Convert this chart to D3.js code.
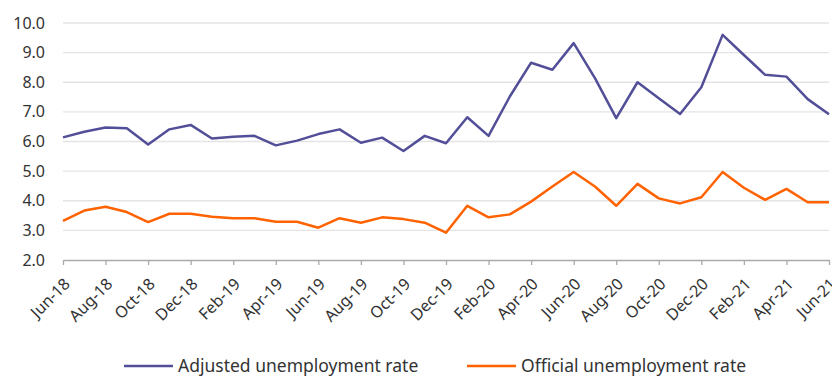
<!DOCTYPE html>
<html>
<head>
<meta charset="utf-8">
<script src="https://cdn.jsdelivr.net/npm/d3@7"></script>
<style>
  body { margin: 0; background: #fff; }
  svg text { font-family: "Noto Sans", sans-serif; fill: #333; }
</style>
</head>
<body>
<div id="chart"></div>
<script>
// monthly labels Jun-18 .. Jun-21
const months = ["Jun-18","Jul-18","Aug-18","Sep-18","Oct-18","Nov-18","Dec-18",
  "Jan-19","Feb-19","Mar-19","Apr-19","May-19","Jun-19","Jul-19","Aug-19","Sep-19","Oct-19","Nov-19","Dec-19",
  "Jan-20","Feb-20","Mar-20","Apr-20","May-20","Jun-20","Jul-20","Aug-20","Sep-20","Oct-20","Nov-20","Dec-20",
  "Jan-21","Feb-21","Mar-21","Apr-21","May-21","Jun-21"];

const adjusted = [6.14,6.33,6.47,6.45,5.90,6.41,6.56,6.10,6.16,6.19,5.87,6.03,6.25,6.41,5.96,6.13,5.68,6.19,5.94,
  6.82,6.19,7.52,8.66,8.42,9.32,8.14,6.79,8.00,7.46,6.93,7.83,9.60,8.92,8.25,8.19,7.43,6.92];

const official = [3.32,3.67,3.80,3.62,3.28,3.56,3.56,3.46,3.41,3.41,3.29,3.29,3.09,3.41,3.26,3.44,3.38,3.26,2.92,
  3.83,3.44,3.54,3.97,4.48,4.97,4.48,3.83,4.57,4.08,3.91,4.12,4.97,4.44,4.03,4.40,3.95,3.95];

const yTicks = [2,3,4,5,6,7,8,9,10];

const series = [
  {name: "Adjusted unemployment rate", values: adjusted, color: "#524f98"},
  {name: "Official unemployment rate", values: official, color: "#ff6200"}
];

const width = 832, height = 378;
const svg = d3.select("#chart").append("svg")
  .attr("width", width).attr("height", height);

const x = d3.scaleLinear().domain([0, months.length - 1]).range([63, 829]);
const y = d3.scaleLinear().domain([2, 10]).range([260, 23]);

// gridlines
svg.append("g")
  .selectAll("line")
  .data(yTicks.slice(1))
  .enter().append("line")
    .attr("x1", x(0)).attr("x2", x(months.length - 1))
    .attr("y1", d => y(d)).attr("y2", d => y(d))
    .attr("stroke", "#e4e4e4").attr("stroke-width", 1.3);

// y labels
svg.append("g")
  .selectAll("text")
  .data(yTicks)
  .enter().append("text")
    .attr("x", 45)
    .attr("y", d => y(d))
    .attr("dy", "0.35em")
    .attr("text-anchor", "end")
    .style("font-size", "16px")
    .text(d => d.toFixed(1));

// x axis
const tickIdx = d3.range(0, months.length, 2);
const xAxis = svg.append("g")
  .attr("transform", "translate(0," + y(2) + ")")
  .call(d3.axisBottom(x).tickValues(tickIdx).tickSize(5).tickSizeOuter(0).tickFormat(""));
xAxis.select(".domain").attr("stroke", "#aaa").attr("stroke-width", 1.3);
xAxis.selectAll(".tick line").attr("stroke", "#aaa").attr("stroke-width", 1.3);

svg.append("g")
  .selectAll("text")
  .data(tickIdx)
  .enter().append("text")
    .attr("transform", d => "translate(" + (x(d) + 4) + "," + (y(2) + 21) + ") rotate(-45)")
    .attr("text-anchor", "end")
    .attr("dy", "0.35em")
    .style("font-size", "16px")
    .text(d => months[d]);

// lines
const line = d3.line()
  .x((d, i) => x(i))
  .y(d => y(d));

svg.append("g")
  .selectAll("path")
  .data(series)
  .enter().append("path")
    .attr("d", d => line(d.values))
    .attr("fill", "none")
    .attr("stroke", d => d.color)
    .attr("stroke-width", 2.5)
    .attr("stroke-linejoin", "round");

// legend
const legend = svg.append("g");
const legendX = [124, 467];
series.forEach((s, i) => {
  const g = legend.append("g").attr("transform", "translate(" + legendX[i] + ",366)");
  g.append("line").attr("x1", 0).attr("x2", 49).attr("y1", 0).attr("y2", 0)
    .attr("stroke", s.color).attr("stroke-width", 2.5);
  g.append("text").attr("x", 54).attr("dy", "0.35em")
    .style("font-size", "17.5px").text(s.name);
});
</script>
</body>
</html>
